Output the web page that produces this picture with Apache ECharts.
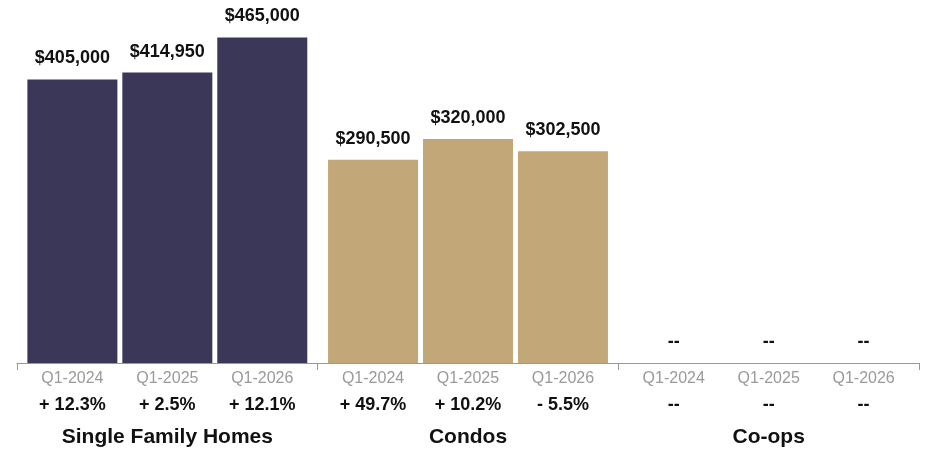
<!DOCTYPE html>
<html>
<head>
<meta charset="utf-8">
<script src="https://cdn.jsdelivr.net/npm/echarts@6/dist/echarts.min.js"></script>
<style>html,body{margin:0;padding:0;background:#fff;}#c{width:928px;height:454px;}</style>
</head>
<body>
<div id="c"></div>
<script>
// ---- data ----
const groups = ['Single Family Homes', 'Condos', 'Co-ops'];
const periods = ['Q1-2024', 'Q1-2025', 'Q1-2026'];
// median prices by period, across groups (null = no data)
const price2024 = [405000, 290500, null];
const price2025 = [414950, 320000, null];
const price2026 = [465000, 302500, null];
// year-over-year change labels by period, across groups
const change2024 = ['+ 12.3%', '+ 49.7%', '--'];
const change2025 = ['+ 2.5%', '+ 10.2%', '--'];
const change2026 = ['+ 12.1%', '- 5.5%', '--'];

const groupColors = ['#3a3759', '#c2a878', '#999999'];
const FONT = '"Liberation Sans", Arial, Helvetica, sans-serif';

const priceSets = [price2024, price2025, price2026];
const changeSets = [change2024, change2025, change2026];

const series = [];
periods.forEach((p, i) => {
  const stackName = 's' + i;
  // invisible zero-height bar carrying the period/change labels below the axis
  series.push({
    type: 'bar',
    stack: stackName,
    barWidth: 90,
    barGap: '5.5%',
    silent: true,
    itemStyle: { color: 'rgba(0,0,0,0)', borderWidth: 0 },
    data: groups.map(() => 0),
    label: {
      show: true,
      position: 'bottom',
      distance: 6,
      fontFamily: FONT,
      formatter: (prm) => '{q|' + p + '}\n{p|' + changeSets[i][prm.dataIndex] + '}',
      rich: {
        q: { fontSize: 16, color: '#9a9a9a', lineHeight: 20, fontFamily: FONT },
        p: { fontSize: 18, fontWeight: 'bold', color: '#111', lineHeight: 33, fontFamily: FONT }
      }
    }
  });
  // visible bar
  series.push({
    type: 'bar',
    stack: stackName,
    barWidth: 90,
    barGap: '5.5%',
    data: priceSets[i].map((v, g) => ({
      value: v == null ? 0 : v,
      itemStyle: { color: groupColors[g], borderWidth: 0 }
    })),
    label: {
      show: true,
      position: 'top',
      distance: 12,
      fontFamily: FONT,
      fontSize: 18,
      fontWeight: 'bold',
      color: '#111',
      formatter: (prm) => {
        const v = priceSets[i][prm.dataIndex];
        return v == null ? '--' : '$' + v.toLocaleString('en-US');
      }
    }
  });
});

const chart = echarts.init(document.getElementById('c'), null, { renderer: 'canvas' });
chart.setOption({
  animation: false,
  grid: { left: 17, right: 9, top: 13, bottom: 91, containLabel: false },
  xAxis: {
    type: 'category',
    data: groups,
    boundaryGap: true,
    axisLine: { show: true, lineStyle: { color: '#999', width: 1 } },
    axisTick: { show: true, length: 7, lineStyle: { color: '#999' } },
    axisLabel: {
      margin: 64,
      fontFamily: FONT,
      fontSize: 21,
      fontWeight: 'bold',
      color: '#111'
    }
  },
  yAxis: {
    type: 'value',
    min: 0,
    max: 500000,
    show: false,
    splitLine: { show: false }
  },
  series: series
});
</script>
</body>
</html>
